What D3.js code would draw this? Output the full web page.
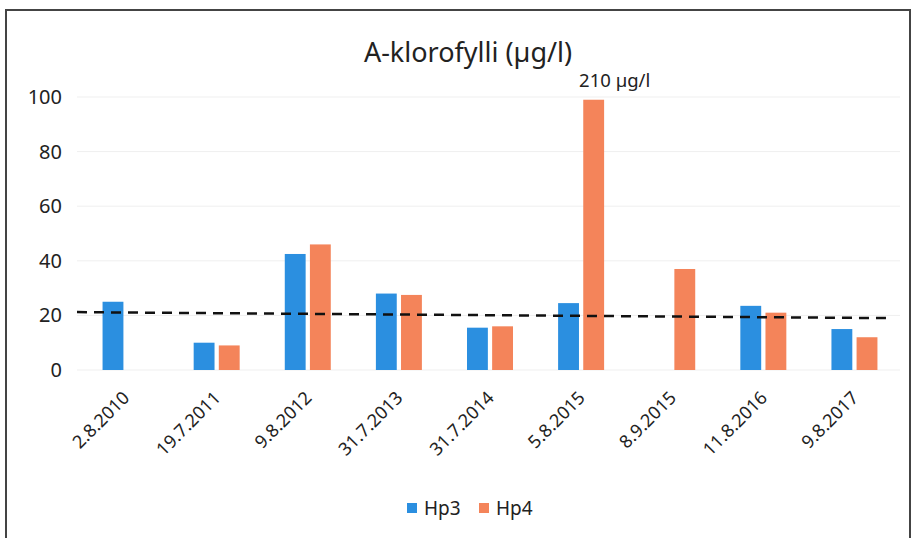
<!DOCTYPE html>
<html lang="fi">
<head>
    <meta charset="utf-8">
    <script type="text/javascript" src="https://cdn.jsdelivr.net/npm/d3@7/dist/d3.min.js"></script>
    <style>
        body { margin: 0; background: #fff; }
        text { font-family: "Noto Sans", sans-serif; fill: #222; }
    </style>
</head>
<body>
<script type="text/javascript">

    // data
    let dates = ["2.8.2010", "19.7.2011", "9.8.2012", "31.7.2013", "31.7.2014",
                 "5.8.2015", "8.9.2015", "11.8.2016", "9.8.2017"];
    let hp3 = [25, 10, 42.5, 28, 15.5, 24.5, null, 23.5, 15];
    let hp4 = [null, 9, 46, 27.5, 16, 210, 37, 21, 12];
    let series = ["Hp3", "Hp4"];
    let colors = ["#2b8fe0", "#f4845a"];
    let yTicks = [0, 20, 40, 60, 80, 100];
    let trend = [21.2, 19];     // dashed trend line, start and end value
    let capValue = 99;           // bars above the axis max are cut here
    let capLabel = "210 µg/l";

    let w = 913;
    let h = 538;
    let margin = {left: 80, right: 13};

    let svg = d3.select("body")
        .append("svg")
        .attr("width", w)
        .attr("height", h);

    // frame
    svg.append("rect")
        .attr("x", 6).attr("y", 10)
        .attr("width", 904).attr("height", 540)
        .attr("fill", "none")
        .attr("stroke", "#444")
        .attr("stroke-width", 2);

    let x = d3.scaleBand()
        .domain(dates)
        .range([margin.left, w - margin.right]);

    let sub = d3.scaleBand()
        .domain(series)
        .range([x.bandwidth() / 2 - 23, x.bandwidth() / 2 + 23])
        .paddingInner(0.17);

    let y = d3.scaleLinear()
        .domain([0, 100])
        .range([370, 97]);

    // gridlines
    svg.append("g")
        .selectAll("line")
        .data(yTicks)
        .join("line")
        .attr("x1", 77)
        .attr("x2", w - margin.right)
        .attr("y1", d => y(d))
        .attr("y2", d => y(d))
        .attr("stroke", "#efefef")
        .attr("stroke-width", 1);

    // y labels
    svg.append("g")
        .selectAll("text")
        .data(yTicks)
        .join("text")
        .attr("x", 62)
        .attr("y", d => y(d))
        .attr("dy", "0.35em")
        .attr("text-anchor", "end")
        .attr("font-size", 20)
        .text(d => d);

    // bars
    let rows = [];
    dates.forEach((d, i) => {
        rows.push({date: d, s: "Hp3", v: hp3[i]});
        rows.push({date: d, s: "Hp4", v: hp4[i]});
    });

    svg.append("g")
        .selectAll("rect")
        .data(rows.filter(r => r.v != null))
        .join("rect")
        .attr("x", r => x(r.date) + sub(r.s))
        .attr("width", sub.bandwidth())
        .attr("y", r => y(Math.min(r.v, capValue)))
        .attr("height", r => y(0) - y(Math.min(r.v, capValue)))
        .attr("fill", r => colors[series.indexOf(r.s)]);

    // label for the cut bar
    let big = rows.find(r => r.v > capValue);
    svg.append("text")
        .attr("x", x(big.date) + sub(big.s) + sub.bandwidth() / 2 + 21)
        .attr("y", 87)
        .attr("text-anchor", "middle")
        .attr("font-size", 18.5)
        .text(capLabel);

    // trend line
    svg.append("line")
        .attr("x1", 77)
        .attr("x2", 888)
        .attr("y1", y(trend[0]))
        .attr("y2", y(trend[1]))
        .attr("stroke", "#111")
        .attr("stroke-width", 2.5)
        .attr("stroke-dasharray", "10,7");

    // x labels
    svg.append("g")
        .selectAll("text")
        .data(dates)
        .join("text")
        .attr("transform", d => "translate(" + (x(d) + x.bandwidth() / 2 + 5) + ",399) rotate(-45)")
        .attr("text-anchor", "end")
        .attr("font-size", 18)
        .text(d => d);

    // title
    svg.append("text")
        .attr("x", 468)
        .attr("y", 62)
        .attr("text-anchor", "middle")
        .attr("font-size", 27)
        .text("A-klorofylli (µg/l)");

    // legend
    let legend = svg.append("g")
        .selectAll("g")
        .data(series)
        .join("g")
        .attr("transform", (d, i) => "translate(" + (407 + i * 72) + ",508)");

    legend.append("rect")
        .attr("x", 0).attr("y", -5)
        .attr("width", 10).attr("height", 10)
        .attr("fill", (d, i) => colors[i]);

    legend.append("text")
        .attr("x", 17)
        .attr("y", 0)
        .attr("dy", "0.35em")
        .attr("font-size", 19)
        .text(d => d);

</script>
</body>
</html>
